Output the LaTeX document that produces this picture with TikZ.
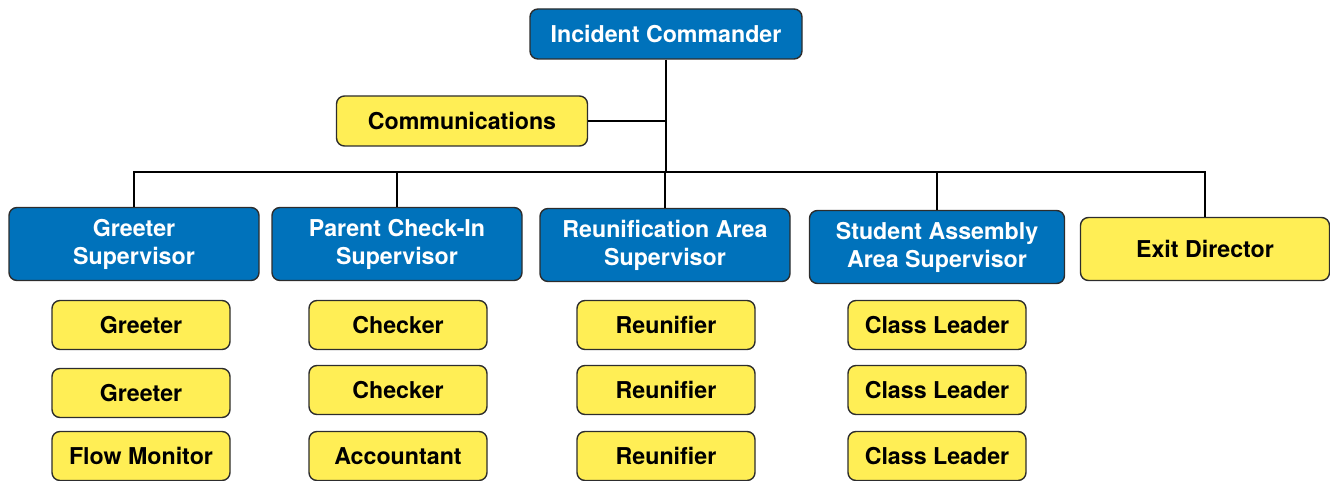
\documentclass[tikz,border=0pt]{standalone}
\usepackage{fontspec}
\setmainfont{TeX Gyre Heros}
\usepackage{tikz}

\definecolor{icsblue}{RGB}{0,114,187}
\definecolor{icsyellow}{RGB}{255,238,85}
\definecolor{icsedge}{RGB}{45,45,45}

\tikzset{
  box/.style={draw=icsedge, line width=0.7pt, rounded corners=4pt, align=center,
    font=\fontsize{11.6}{14}\selectfont\bfseries, inner sep=0pt},
  lead/.style={box, fill=icsblue, text=white, minimum width=125pt, minimum height=36.5pt},
  staff/.style={box, fill=icsyellow, text=black},
  crew/.style={staff, minimum width=89pt, minimum height=24.5pt},
  link/.style={line width=1pt, black}
}

\begin{document}
\begin{tikzpicture}[x=0.5pt,y=-0.5pt]
\useasboundingbox (0,0) rectangle (1330,481);

\node[lead, minimum width=136pt, minimum height=25pt] (ic) at (666,34) {Incident Commander};
\node[staff, minimum width=125.5pt, minimum height=25pt] (comm) at (462,121) {Communications};

\node[lead] (gs) at (134,244) {Greeter\\Supervisor};
\node[lead] (pcs) at (397,244) {Parent Check-In\\Supervisor};
\node[lead] (ras) at (665,245) {Reunification Area\\Supervisor};
\node[lead, minimum width=127.5pt] (sas) at (937,247) {Student Assembly\\Area Supervisor};
\node[staff, minimum width=124.5pt, minimum height=31.5pt] (ex) at (1205,249) {Exit Director};

% first column
\node[crew] (g1) at (141,325) {Greeter};
\node[crew] (g2) at (141,393) {Greeter};
\node[crew] (fm) at (141,456) {Flow Monitor};
% second column
\node[crew] (c1) at (398,325) {Checker};
\node[crew] (c2) at (398,390) {Checker};
\node[crew] (ac) at (398,456) {Accountant};
% third column
\node[crew] (r1) at (666,325) {Reunifier};
\node[crew] (r2) at (666,390) {Reunifier};
\node[crew] (r3) at (666,456) {Reunifier};
% fourth column
\node[crew] (l1) at (937,325) {Class Leader};
\node[crew] (l2) at (937,390) {Class Leader};
\node[crew] (l3) at (937,456) {Class Leader};

\coordinate (bus) at (666,172);
\draw[link] (ic.south) -- (bus);
\draw[link] (comm.east) -- (ic.south |- comm.east);
\draw[link] (gs.north) |- (bus) -| (ex.north);
\draw[link] (pcs.north) -- (pcs.north |- bus);
\draw[link] (ras.north) -- (ras.north |- bus);
\draw[link] (sas.north) -- (sas.north |- bus);
\end{tikzpicture}
\end{document}
